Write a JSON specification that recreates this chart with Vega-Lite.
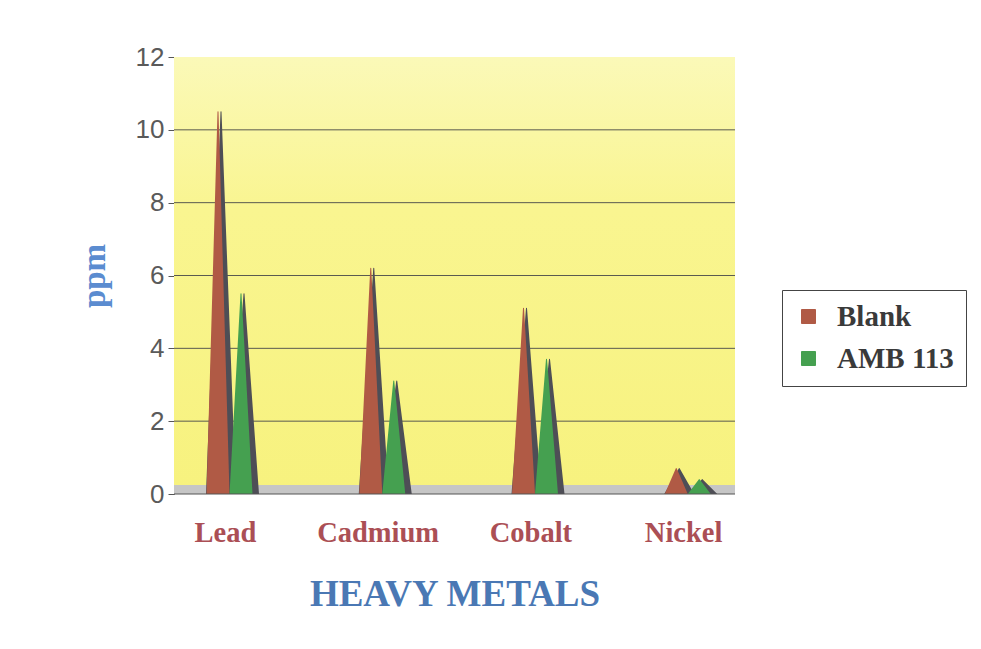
{
  "$schema": "https://vega.github.io/schema/vega-lite/v6.json",
  "width": 561,
  "height": 437,
  "autosize": {"type": "none"},
  "padding": {"left": 174, "top": 57, "right": 246, "bottom": 155},
  "background": "white",
  "config": {
    "view": {"stroke": null, "fill": "#f8f37c"},
    "axis": {"labelFont": "Liberation Sans", "titleFont": "Liberation Serif"}
  },
  "datasets": {
    "metals": [
      {"metal": "Lead", "series": "Blank", "ppm": 10.5},
      {"metal": "Lead", "series": "AMB 113", "ppm": 5.5},
      {"metal": "Cadmium", "series": "Blank", "ppm": 6.2},
      {"metal": "Cadmium", "series": "AMB 113", "ppm": 3.1},
      {"metal": "Cobalt", "series": "Blank", "ppm": 5.1},
      {"metal": "Cobalt", "series": "AMB 113", "ppm": 3.7},
      {"metal": "Nickel", "series": "Blank", "ppm": 0.7},
      {"metal": "Nickel", "series": "AMB 113", "ppm": 0.4}
    ]
  },
  "data": {"name": "metals"},
  "resolve": {"scale": {"xOffset": "independent", "size": "independent"}},
  "layer": [
    {
      "data": {"values": [{"wall": "back"}]},
      "mark": {
        "type": "rect",
        "color": {
          "gradient": "linear", "x1": 0, "y1": 0, "x2": 0, "y2": 1,
          "stops": [
            {"offset": 0, "color": "#fbf9b8"},
            {"offset": 0.35, "color": "#f9f590"},
            {"offset": 1, "color": "#f7f27e"}
          ]
        }
      },
      "encoding": {
        "y": {"datum": 12, "type": "quantitative", "scale": {"domain": [0, 12]},
          "axis": {
            "values": [0, 2, 4, 6, 8, 10, 12],
            "title": "ppm",
            "titleFontSize": 33,
            "titleFontWeight": "bold",
            "titleColor": "#5b8cd0",
            "titlePadding": 24,
            "labelFontSize": 26,
            "labelColor": "#5a5a5a",
            "labelPadding": 4,
            "tickSize": 6,
            "tickColor": "#555555",
            "domainColor": "#555555",
            "grid": false
          }},
        "y2": {"datum": 0}
      }
    },
    {"data": {"values": [{"g": 1}]}, "mark": {"type": "rule", "color": "#5a5a50"}, "encoding": {"y": {"datum": 2, "type": "quantitative"}}},
    {"data": {"values": [{"g": 1}]}, "mark": {"type": "rule", "color": "#5a5a50"}, "encoding": {"y": {"datum": 4, "type": "quantitative"}}},
    {"data": {"values": [{"g": 1}]}, "mark": {"type": "rule", "color": "#5a5a50"}, "encoding": {"y": {"datum": 6, "type": "quantitative"}}},
    {"data": {"values": [{"g": 1}]}, "mark": {"type": "rule", "color": "#5a5a50"}, "encoding": {"y": {"datum": 8, "type": "quantitative"}}},
    {"data": {"values": [{"g": 1}]}, "mark": {"type": "rule", "color": "#5a5a50"}, "encoding": {"y": {"datum": 10, "type": "quantitative"}}},
    {
      "data": {"values": [{"floor": 0}]},
      "mark": {"type": "rect", "color": "#c6c6c6"},
      "encoding": {
        "y": {"datum": 0, "type": "quantitative"},
        "y2": {"datum": 0.25}
      }
    },
    {
      "transform": [
        {"calculate": "[0, datum.ppm]", "as": "ends"},
        {"flatten": ["ends"]},
        {"calculate": "datum.ends == 0 ? 1 : 0", "as": "base"}
      ],
      "mark": {"type": "trail", "color": "#4e4e56", "clip": true},
      "encoding": {
        "x": {"field": "metal", "type": "nominal", "sort": ["Lead", "Cadmium", "Cobalt", "Nickel"],
          "scale": {"range": [-25, 586], "paddingInner": 0, "paddingOuter": 0}},
        "xOffset": {"field": "series", "type": "nominal", "sort": ["Blank", "AMB 113"], "scale": {"range": [60.5, 106.5]}},
        "y": {"field": "ends", "type": "quantitative"},
        "size": {"field": "base", "type": "quantitative", "scale": {"domain": [0, 1], "range": [0, 30]}, "legend": null},
        "detail": [{"field": "metal"}, {"field": "series"}],
        "order": {"field": "ends"}
      }
    },
    {
      "transform": [
        {"calculate": "[0, datum.ppm]", "as": "ends"},
        {"flatten": ["ends"]},
        {"calculate": "datum.ends == 0 ? 1 : 0", "as": "base"}
      ],
      "mark": {"type": "trail", "clip": true},
      "encoding": {
        "x": {"field": "metal", "type": "nominal", "sort": ["Lead", "Cadmium", "Cobalt", "Nickel"],
          "axis": {
            "title": "HEAVY METALS",
            "titleFontSize": 37,
            "titleFontWeight": "bold",
            "titleColor": "#4a78b4",
            "titlePadding": 30,
            "labelFont": "Liberation Serif",
            "labelFontSize": 28.5,
            "labelFontWeight": "bold",
            "labelColor": "#ab4f55",
            "labelPadding": 38,
            "labelAngle": 0,
            "labelAlign": "center",
            "ticks": false,
            "domain": false
          }},
        "xOffset": {"field": "series", "type": "nominal", "sort": ["Blank", "AMB 113"], "scale": {"range": [57.5, 103.5]}},
        "y": {"field": "ends", "type": "quantitative"},
        "size": {"field": "base", "type": "quantitative", "scale": {"domain": [0, 1], "range": [0, 23]}, "legend": null},
        "color": {"field": "series", "type": "nominal", "sort": ["Blank", "AMB 113"],
          "scale": {"domain": ["Blank", "AMB 113"], "range": ["#b05a45", "#45a050"]},
          "legend": {
            "title": null,
            "orient": "none",
            "legendX": 608,
            "legendY": 233,
            "symbolType": "square",
            "symbolSize": 196,
            "symbolStrokeColor": "#555555",
            "symbolStrokeWidth": 1,
            "labelFont": "Liberation Serif",
            "labelFontSize": 29,
            "labelFontWeight": "bold",
            "labelColor": "#3a3a3a",
            "labelLimit": 300,
            "labelOffset": 14,
            "rowPadding": 12,
            "padding": 12,
            "strokeColor": "#444444",
            "fillColor": "white",
            "encode": {"symbols": {"update": {"fill": {"scale": "color", "field": "value"}, "fillOpacity": {"value": 1}, "stroke": {"value": "#555555"}, "strokeWidth": {"value": 1}}}}
          }},
        "detail": {"field": "metal"},
        "order": {"field": "ends"}
      }
    },
    {
      "data": {"values": [{"floor": 0}]},
      "mark": {"type": "rule", "color": "#555555"},
      "encoding": {"y": {"datum": 0, "type": "quantitative"}}
    }
  ]
}
